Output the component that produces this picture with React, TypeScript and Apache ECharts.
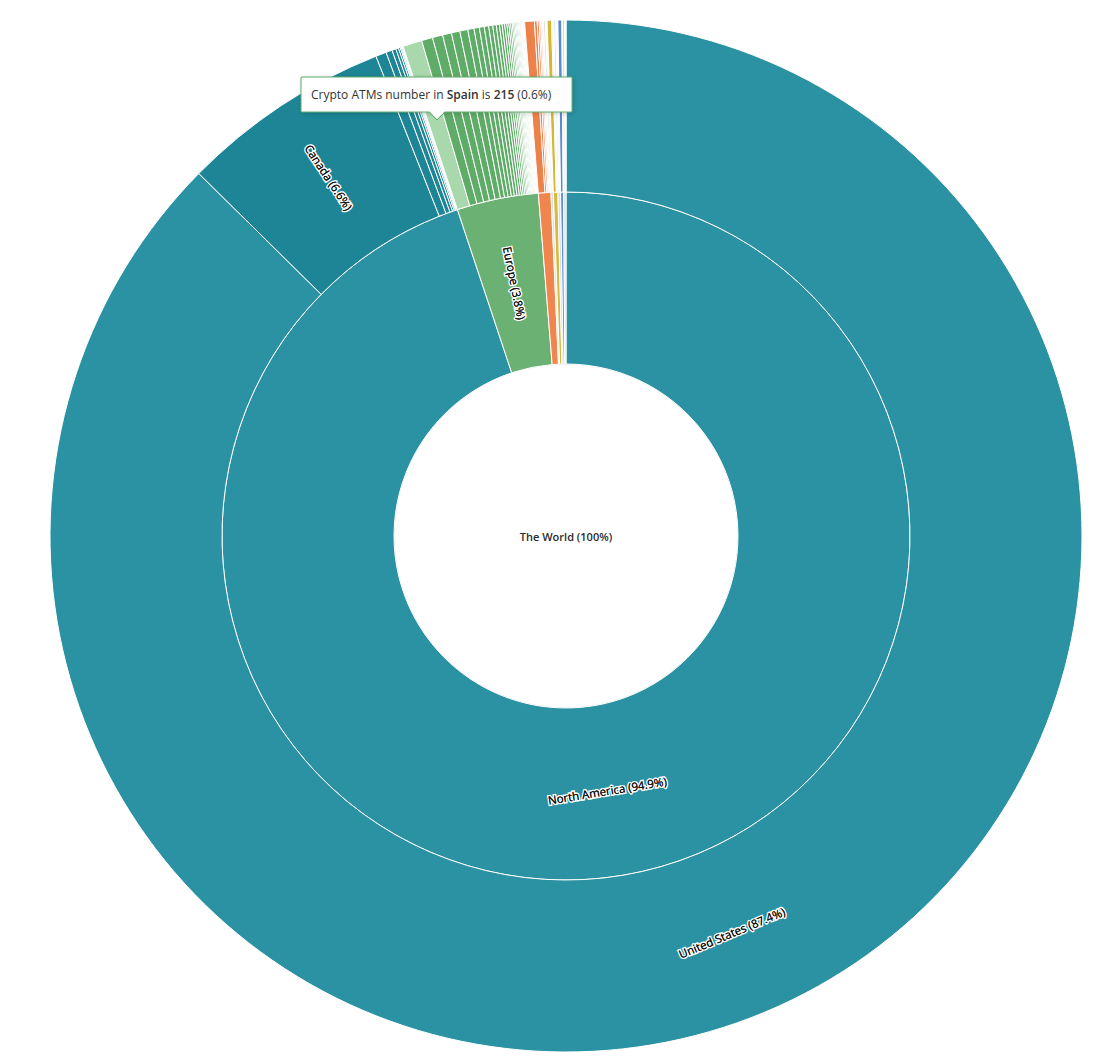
import React, { useEffect, useRef } from "react";
import * as echarts from "echarts";

const rootName = "The World";
const metricLabel = "Crypto ATMs number in";
const highlightedCountry = "Spain";

const continentNames = ["North America", "Europe", "Asia", "Middle East", "South America", "Africa", "Oceania", "Central Asia"];

const northAmericaCountries = ["United States", "Canada", "El Salvador", "Mexico", "Panama", "Puerto Rico", "Dominican Republic", "Guatemala", "Costa Rica", "Honduras", "Jamaica", "Aruba"];
const northAmericaValues = [31380, 2370, 120, 70, 45, 30, 20, 12, 10, 6, 4, 3];

const europeCountries = ["Spain", "Poland", "Austria", "Romania", "Switzerland", "Czech Republic", "Italy", "Slovakia", "Greece", "Ukraine", "United Kingdom", "Russia", "Netherlands", "Slovenia", "Germany", "Bulgaria", "Croatia", "Georgia", "Hungary", "Belgium", "Portugal", "France", "Ireland", "Lithuania", "Finland", "Bosnia and Herzegovina", "Estonia", "Latvia", "Serbia", "Denmark", "Cyprus", "Malta", "Sweden", "Norway", "Luxembourg", "Kosovo", "Andorra", "Liechtenstein", "Iceland", "Monaco"];
const europeValues = [215, 125, 115, 100, 95, 90, 70, 60, 55, 50, 45, 40, 35, 30, 28, 25, 22, 20, 18, 15, 14, 13, 12, 11, 10, 9, 8, 7, 6, 5, 5, 4, 4, 3, 3, 2, 2, 2, 1, 1];

const asiaCountries = ["Hong Kong", "Singapore", "Japan", "Thailand", "Taiwan", "Vietnam", "Philippines", "India"];
const asiaValues = [110, 30, 22, 16, 12, 8, 7, 5];

const middleEastCountries = ["Israel", "Turkey", "United Arab Emirates", "Lebanon"];
const middleEastValues = [20, 10, 6, 4];

const southAmericaCountries = ["Colombia", "Argentina", "Brazil", "Ecuador", "Chile"];
const southAmericaValues = [50, 12, 6, 4, 3];

const africaCountries = ["South Africa", "Nigeria", "Kenya", "Ghana", "Uganda"];
const africaValues = [20, 10, 8, 4, 3];

const oceaniaCountries = ["Australia", "New Zealand"];
const oceaniaValues = [44, 6];

const centralAsiaCountries = ["Kazakhstan", "Uzbekistan", "Kyrgyzstan"];
const centralAsiaValues = [25, 10, 5];

const countryLists = [
  [northAmericaCountries, northAmericaValues],
  [europeCountries, europeValues],
  [asiaCountries, asiaValues],
  [middleEastCountries, middleEastValues],
  [southAmericaCountries, southAmericaValues],
  [africaCountries, africaValues],
  [oceaniaCountries, oceaniaValues],
  [centralAsiaCountries, centralAsiaValues],
] as [string[], number[]][];

// styling
const continentColors = ["#2a92a3", "#6ab173", "#f0864e", "#d9dee2", "#d6bb3c", "#d9dee2", "#5b8ed6", "#d9dee2"];
const childColors = ["#1d8595", "#5fab68", "#ee8049", "#d6dbdf", "#d3b737", "#d6dbdf", "#5689d2", "#d6dbdf"];
const highlightColor = "#a8d8ab";
const labelFont = "Open Sans";

const sum = (a: number[]) => a.reduce((s, v) => s + v, 0);
const total = countryLists.reduce((s, [, v]) => s + sum(v), 0);
const pct = (v: number) => {
  const s = ((v / total) * 100).toFixed(1);
  return s.endsWith(".0") && v === total ? s.slice(0, -2) : s;
};

const baseLabel = {
  show: true,
  fontSize: 11.5,
  fontFamily: labelFont,
  color: "#111111",
  textBorderColor: "#ffffff",
  textBorderWidth: 3,
  formatter: (p: any) => `${p.name} (${pct(p.value)}%)`,
};

function labelFor(v: number) {
  return { ...baseLabel, minAngle: 10, rotate: v / total > 0.25 ? "tangential" : "radial" };
}

function buildData() {
  const children = continentNames.map((cName, i) => {
    const [names, values] = countryLists[i];
    const cValue = sum(values);
    return {
      name: cName,
      value: cValue,
      itemStyle: { color: continentColors[i] },
      label: labelFor(cValue),
      children: names.map((n, j) => ({
        name: n,
        value: values[j],
        itemStyle: {
          color:
            n === highlightedCountry
              ? highlightColor
              : i === 0 && j === 0
              ? continentColors[i]
              : childColors[i],
        },
        label: labelFor(values[j]),
      })),
    };
  });
  return [
    {
      name: rootName,
      value: total,
      itemStyle: { color: "#ffffff", borderColor: "#d8d8d8", borderWidth: 1 },
      label: {
        ...baseLabel,
        rotate: 0,
        fontSize: 11,
        fontWeight: 600,
        color: "#2a2a2a",
        textBorderWidth: 0,
      },
      children,
    },
  ];
}

function findValue(name: string) {
  for (const [names, values] of countryLists) {
    const k = names.indexOf(name);
    if (k >= 0) return values[k];
  }
  return 0;
}

// Put a fill-only copy of each haloed label on top of it, so the white outline sits behind the glyphs.
function liftHaloText(host: HTMLElement | null) {
  if (!host) return;
  host.querySelectorAll("text").forEach((t) => {
    const el = t as SVGTextElement;
    if (el.getAttribute("data-halo")) return;
    const sw = el.getAttribute("stroke-width") || (el.style && el.style.strokeWidth) || "";
    const st = el.getAttribute("stroke") || (el.style && el.style.stroke) || "";
    if (!st || st === "none" || !sw || parseFloat(sw) <= 0) return;
    el.setAttribute("data-halo", "1");
    const c = el.cloneNode(true) as SVGTextElement;
    c.setAttribute("data-halo", "2");
    c.setAttribute("stroke", "none");
    c.removeAttribute("stroke-width");
    c.style.stroke = "none";
    if (el.parentNode) el.parentNode.insertBefore(c, el.nextSibling);
  });
}

export default function App() {
  const ref = useRef<HTMLDivElement>(null);
  useEffect(() => {
    if (!ref.current) return;
    const host = ref.current;
    const chart = echarts.init(host, undefined, { renderer: "svg" });
    const hv = findValue(highlightedCountry);
    const tipX = 301;
    const tipY = 77;
    const tipW = 271;
    const tipH = 35;
    const arrowX = 437;
    const border = "#5fab68";
    chart.on("finished", () => liftHaloText(host));
    chart.setOption({
      animation: false,
      backgroundColor: "#ffffff",
      series: [
        {
          type: "sunburst",
          center: [566, 536],
          radius: [0, 516],
          startAngle: 90,
          sort: null,
          nodeClick: false,
          emphasis: { disabled: true },
          data: buildData(),
          itemStyle: { borderColor: "#ffffff", borderWidth: 1 },
          label: { ...baseLabel, minAngle: 10 },
          levels: [
            {},
            { r0: 0, r: 172 },
            { r0: 172, r: 344 },
            { r0: 344, r: 516 },
          ],
        },
      ],
      graphic: [
        {
          type: "rect",
          shape: { x: tipX, y: tipY, width: tipW, height: tipH, r: 1 },
          style: {
            fill: "#ffffff",
            stroke: border,
            lineWidth: 1,
            shadowBlur: 4,
            shadowColor: "rgba(0,0,0,0.18)",
            shadowOffsetX: 1,
            shadowOffsetY: 1,
          },
          z: 100,
        },
        {
          type: "polygon",
          shape: { points: [[arrowX - 8, tipY + tipH - 1], [arrowX + 8, tipY + tipH - 1], [arrowX, tipY + tipH + 7]] },
          style: { fill: "#ffffff" },
          z: 101,
        },
        {
          type: "polyline",
          shape: { points: [[arrowX - 8, tipY + tipH], [arrowX, tipY + tipH + 8], [arrowX + 8, tipY + tipH]] },
          style: { stroke: border, lineWidth: 1, fill: null },
          z: 102,
        },
        {
          type: "text",
          x: tipX + 10,
          y: tipY + tipH / 2,
          z: 103,
          style: {
            text: `${metricLabel} {b|${highlightedCountry}} is {b|${hv}} (${pct(hv)}%)`,
            fontSize: 12,
            fontFamily: labelFont,
            fill: "#333333",
            verticalAlign: "middle",
            rich: {
              b: { fontSize: 12, fontFamily: labelFont, fontWeight: 600, fill: "#333333" },
            },
          },
        },
      ],
    });
    liftHaloText(host);
    const raf = requestAnimationFrame(() => liftHaloText(host));
    const t1 = setTimeout(() => liftHaloText(host), 50);
    const t2 = setTimeout(() => liftHaloText(host), 300);
    return () => {
      cancelAnimationFrame(raf);
      clearTimeout(t1);
      clearTimeout(t2);
      chart.dispose();
    };
  }, []);
  return (
    <div
      ref={ref}
      style={{ position: "absolute", left: 0, top: 0, width: 1120, height: 1057 }}
    />
  );
}
